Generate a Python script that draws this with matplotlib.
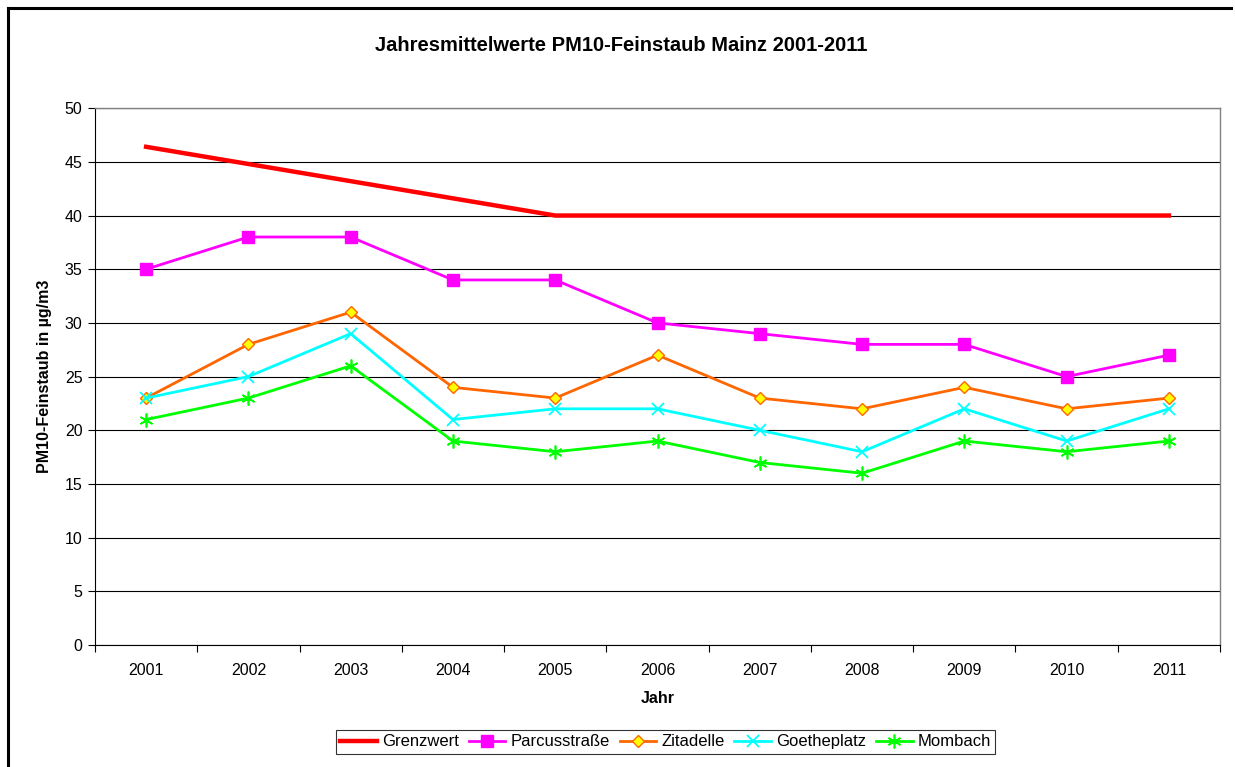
import matplotlib
matplotlib.use("Agg")
import matplotlib.pyplot as plt
import numpy as np

plt.rcParams["font.family"] = ["Liberation Sans", "DejaVu Sans"]

years = ["2001", "2002", "2003", "2004", "2005", "2006",
         "2007", "2008", "2009", "2010", "2011"]
grenzwert = [46.4, 44.8, 43.2, 41.6, 40, 40, 40, 40, 40, 40, 40]
parcusstrasse = [35, 38, 38, 34, 34, 30, 29, 28, 28, 25, 27]
zitadelle = [23, 28, 31, 24, 23, 27, 23, 22, 24, 22, 23]
goetheplatz = [23, 25, 29, 21, 22, 22, 20, 18, 22, 19, 22]
mombach = [21, 23, 26, 19, 18, 19, 17, 16, 19, 18, 19]

fig = plt.figure(figsize=(12.35, 7.67), dpi=100)
ax = fig.add_axes([0.0769, 0.159, 0.911, 0.700])

x = np.arange(len(years))

# Series
ax.plot(x, grenzwert, color="#ff0000", lw=3.2, label="Grenzwert", zorder=3)
ax.plot(x, parcusstrasse, color="#ff00ff", lw=2, marker="s", ms=9,
        mfc="#ff00ff", mec="#ff00ff", label="Parcusstraße", zorder=3)
ax.plot(x, zitadelle, color="#ff6600", lw=2, marker="D", ms=6.5,
        mfc="#ffff00", mec="#ff6600", mew=1, label="Zitadelle", zorder=3)
ax.plot(x, goetheplatz, color="#00ffff", lw=2, marker="x", ms=9,
        mew=1.3, label="Goetheplatz", zorder=3)
ax.plot(x, mombach, color="#00ff00", lw=2, marker=(6, 2, 0), ms=10,
        mew=1.2, label="Mombach", zorder=3)

# Axes
ax.set_xlim(-0.5, len(years) - 0.5)
ax.set_ylim(0, 50)
ax.set_yticks(np.arange(0, 51, 5))
ax.set_xticks(x)
ax.set_xticklabels(years)
ax.set_xticks(np.arange(-0.5, len(years), 1), minor=True)
ax.tick_params(axis="x", which="major", length=0, pad=13, labelsize=11.5)
ax.tick_params(axis="x", which="minor", length=5, direction="out", width=0.8)
ax.tick_params(axis="y", length=5, direction="out", width=0.8, labelsize=11.5,
               pad=4)

ax.yaxis.grid(True, color="black", lw=0.8)
ax.set_axisbelow(True)
for side in ["top", "right"]:
    ax.spines[side].set_color("#808080")
    ax.spines[side].set_linewidth(1)
for side in ["left", "bottom"]:
    ax.spines[side].set_color("black")
    ax.spines[side].set_linewidth(0.8)

ax.set_xlabel("Jahr", fontsize=11.5, fontweight="bold", labelpad=9)
ax.set_ylabel("PM10-Feinstaub in µg/m3", fontsize=11.5, fontweight="bold",
              labelpad=9)
fig.text(0.503, 0.9407, "Jahresmittelwerte PM10-Feinstaub Mainz 2001-2011",
         ha="center", va="center", fontsize=14.5, fontweight="bold")

leg = fig.legend(loc="center", bbox_to_anchor=(0.539, 0.0326), ncol=5,
                 fontsize=12, frameon=True, fancybox=False, edgecolor="black",
                 handlelength=2.2, handletextpad=0.3, columnspacing=0.6,
                 borderpad=0.25, borderaxespad=0)
leg.get_frame().set_linewidth(0.8)

# outer chart frame (left and top edges visible)
fig.add_artist(plt.Line2D([0.0068, 0.0068], [0, 0.9896], color="black", lw=2.2,
                          transform=fig.transFigure))
fig.add_artist(plt.Line2D([0.0068, 0.997], [0.9896, 0.9896], color="black", lw=2.2,
                          transform=fig.transFigure))

fig.savefig("out.png", dpi=100)
